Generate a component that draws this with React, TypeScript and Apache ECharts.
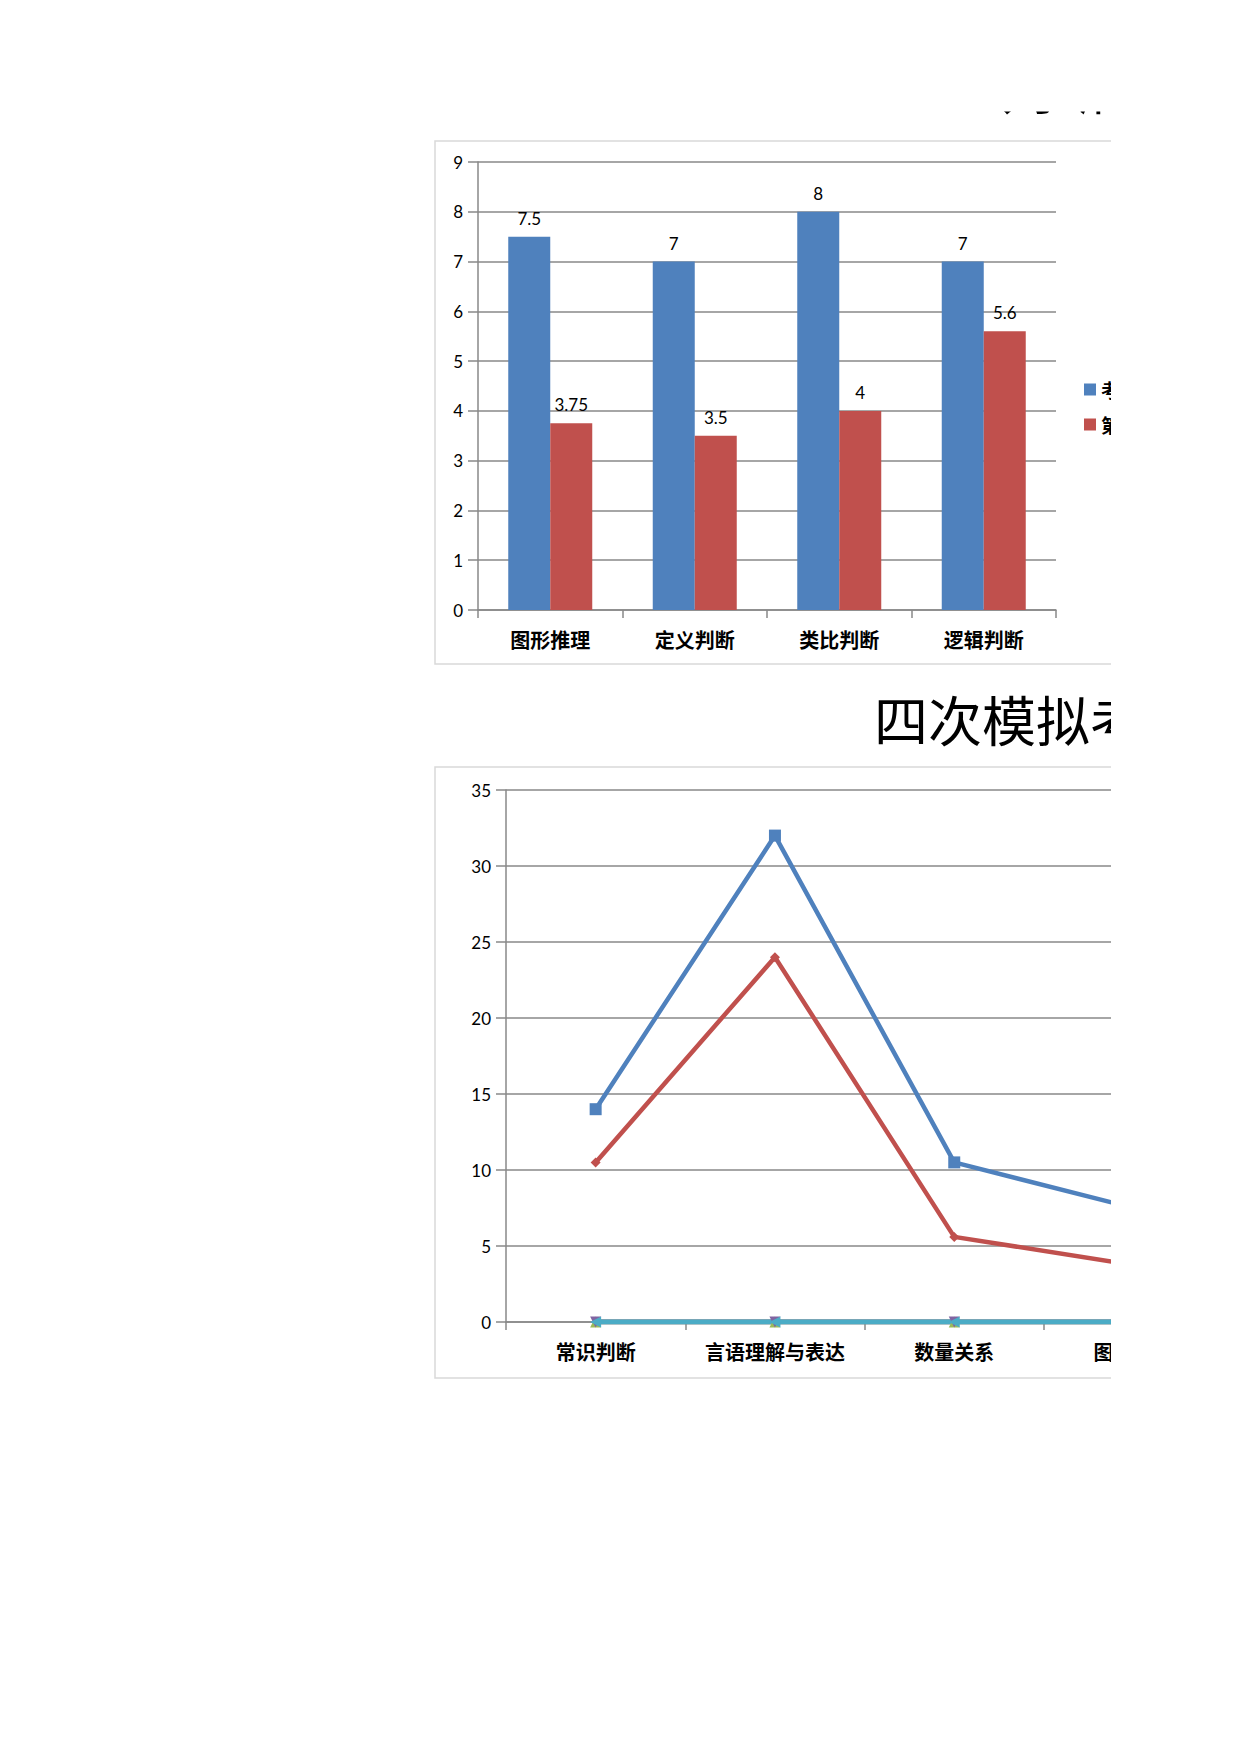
import React, { useEffect, useRef } from "react";
import * as echarts from "echarts";

// ---- data ----
const barCategories = ["图形推理", "定义判断", "类比判断", "逻辑判断"];
const barFullScore = [7.5, 7, 8, 7];
const barFirstScore = [3.75, 3.5, 4, 5.6];
const barYTicks = { min: 0, max: 9, interval: 1 };

const lineCategories = ["常识判断", "言语理解与表达", "数量关系", "图形推理", "定义判断", "类比判断", "逻辑判断"];
const lineFullScore = [14, 32, 10.5, 7.5, 7, 8, 7];
const lineFirstScore = [10.5, 24, 5.6, 3.75, 3.5, 4, 5.6];
const lineSecondScore = [0, 0, 0, 0, 0, 0, 0];
const lineThirdScore = [0, 0, 0, 0, 0, 0, 0];
const lineFourthScore = [0, 0, 0, 0, 0, 0, 0];
const lineYTicks = { min: 0, max: 35, interval: 5 };

const seriesNames = ["考试分值", "第一次得分", "第二次得分", "第三次得分", "第四次得分"];
const topTitle = "判断推理各模块得分";
const lineTitle = "四次模拟考试成绩对比";

const BLUE = "#4F81BD";
const RED = "#C0504D";
const GREEN = "#9BBB59";
const PURPLE = "#8064A2";
const AQUA = "#4BACC6";
const GRID = "#888888";
const NUM_FONT = "Lato, 'Noto Sans CJK SC', sans-serif";
const CJK_FONT = "'Noto Sans CJK SC', sans-serif";

export default function App() {
  const ref = useRef<HTMLDivElement>(null);

  useEffect(() => {
    if (!ref.current) return;
    const chart = echarts.init(ref.current, null, { renderer: "svg" });

    const valueAxis = (gridIndex: number, t: { min: number; max: number; interval: number }) => ({
      type: "value",
      gridIndex,
      min: t.min,
      max: t.max,
      interval: t.interval,
      axisLine: { show: true, lineStyle: { color: GRID, width: 1.5 } },
      axisTick: { show: true, length: 10, lineStyle: { color: GRID, width: 1.5 } },
      splitLine: { show: true, lineStyle: { color: GRID, width: 1.5 } },
      axisLabel: { color: "#000", fontSize: 17, fontFamily: NUM_FONT, margin: 15 },
    });

    const catAxis = (gridIndex: number, data: string[], margin: number) => ({
      type: "category",
      gridIndex,
      data,
      boundaryGap: true,
      axisLine: { show: true, lineStyle: { color: GRID, width: 1.5 } },
      axisTick: { show: true, length: 8, interval: 0, lineStyle: { color: GRID, width: 1.5 } },
      axisLabel: {
        color: "#000",
        fontSize: 20,
        fontWeight: "bold",
        fontFamily: CJK_FONT,
        margin,
        interval: 0,
      },
    });

    const zeroLine = (name: string, data: number[], color: string, symbol: string, size: number, rotate = 0) => ({
      type: "line",
      name,
      xAxisIndex: 1,
      yAxisIndex: 1,
      data,
      symbol,
      symbolSize: size,
      symbolRotate: rotate,
      lineStyle: { color, width: 5 },
      itemStyle: { color },
    });

    const option: any = {
      animation: false,
      backgroundColor: "#ffffff",
      legend: {
        data: [seriesNames[0], seriesNames[1]],
        orient: "vertical",
        left: 1079,
        top: 375,
        itemWidth: 12,
        itemHeight: 12,
        itemGap: 16,
        icon: "rect",
        textStyle: { color: "#000", fontSize: 19, fontWeight: "bold", fontFamily: CJK_FONT },
      },
      grid: [
        { left: 478, top: 162, width: 578, height: 448 },
        { left: 506, top: 790, width: 179.3 * lineCategories.length, height: 532 },
      ],
      xAxis: [catAxis(0, barCategories, 19), catAxis(1, lineCategories, 19)],
      yAxis: [valueAxis(0, barYTicks), valueAxis(1, lineYTicks)],
      graphic: [
        {
          type: "rect",
          z: 0,
          shape: { x: 435, y: 141, width: 900, height: 523 },
          style: { fill: "none", stroke: "#d9d9d9", lineWidth: 1.5 },
        },
        {
          type: "rect",
          z: 0,
          shape: { x: 435, y: 767, width: 1400, height: 611 },
          style: { fill: "none", stroke: "#d9d9d9", lineWidth: 1.5 },
        },
        {
          type: "text",
          z: 5,
          x: 1000,
          y: 86,
          style: {
            text: topTitle,
            fill: "#000",
            fontSize: 54,
            fontFamily: CJK_FONT,
            textVerticalAlign: "middle",
            textAlign: "left",
          },
        },
        {
          type: "rect",
          z: 10,
          shape: { x: 850, y: 0, width: 900, height: 111.5 },
          style: { fill: "#ffffff" },
        },
        {
          type: "text",
          z: 5,
          x: 874,
          y: 718,
          style: {
            text: lineTitle,
            fill: "#000",
            fontSize: 54,
            fontFamily: CJK_FONT,
            textVerticalAlign: "middle",
            textAlign: "left",
          },
        },
      ],
      series: [
        {
          type: "bar",
          name: seriesNames[0],
          xAxisIndex: 0,
          yAxisIndex: 0,
          data: barFullScore,
          barWidth: 42,
          barGap: "0%",
          itemStyle: { color: BLUE },
          label: { show: true, position: "top", distance: 10, color: "#000", fontSize: 17, fontFamily: NUM_FONT },
        },
        {
          type: "bar",
          name: seriesNames[1],
          xAxisIndex: 0,
          yAxisIndex: 0,
          data: barFirstScore,
          barWidth: 42,
          barGap: "0%",
          itemStyle: { color: RED },
          label: { show: true, position: "top", distance: 10, color: "#000", fontSize: 17, fontFamily: NUM_FONT },
        },
        {
          type: "line",
          name: seriesNames[0],
          xAxisIndex: 1,
          yAxisIndex: 1,
          data: lineFullScore,
          symbol: "rect",
          symbolSize: 12,
          lineStyle: { color: BLUE, width: 4.5 },
          itemStyle: { color: BLUE },
        },
        {
          type: "line",
          name: seriesNames[1],
          xAxisIndex: 1,
          yAxisIndex: 1,
          data: lineFirstScore,
          symbol: "diamond",
          symbolSize: 10,
          lineStyle: { color: RED, width: 4.5 },
          itemStyle: { color: RED },
        },
        zeroLine(seriesNames[2], lineSecondScore, GREEN, "triangle", 11),
        zeroLine(seriesNames[3], lineThirdScore, PURPLE, "triangle", 11, 180),
        zeroLine(seriesNames[4], lineFourthScore, AQUA, "triangle", 11, 90),
      ],
    };

    chart.setOption(option);
    return () => chart.dispose();
  }, []);

  return (
    <div
      style={{
        position: "absolute",
        left: 0,
        top: 0,
        width: 1240,
        height: 1754,
        background: "#ffffff",
      }}
    >
      <div style={{ position: "absolute", left: 0, top: 0, width: 1111, height: 1754, overflow: "hidden" }}>
        <div ref={ref} style={{ position: "absolute", left: 0, top: 0, width: 1900, height: 1754 }} />
      </div>
    </div>
  );
}
